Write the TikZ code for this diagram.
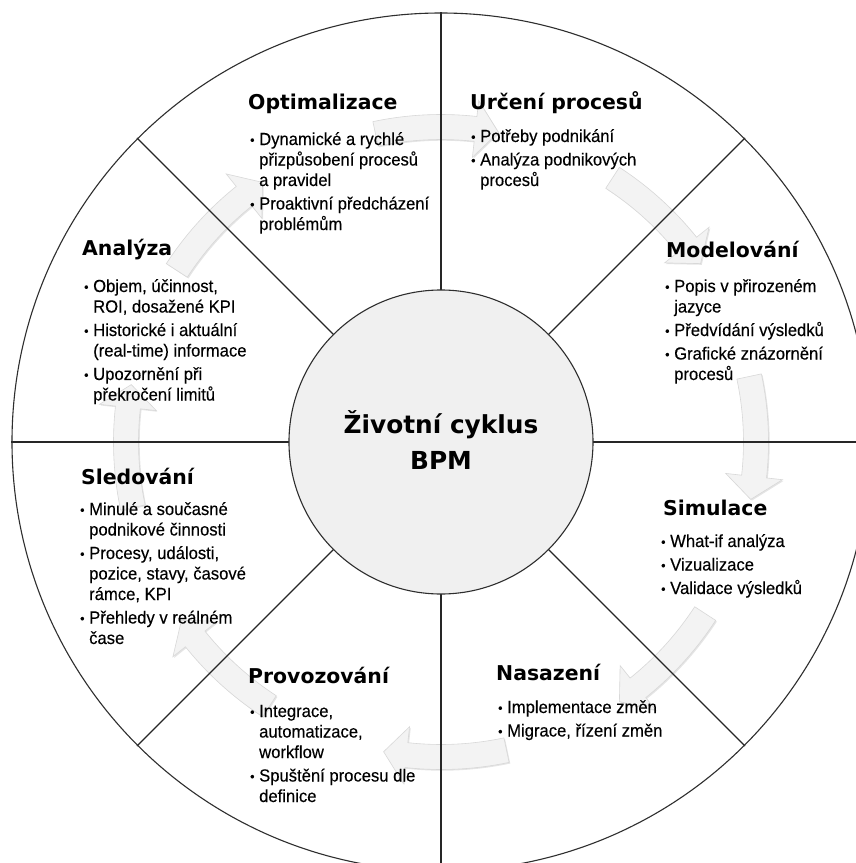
\documentclass[tikz,border=0pt]{standalone}
\usepackage{fontspec}
\setmainfont{Liberation Sans}
\newfontfamily\headfont{DejaVu Sans}
\newfontfamily\bodyfont{Liberation Sans}[FakeStretch=0.95, FakeBold=0.25]
\usetikzlibrary{shadows}

\definecolor{corefill}{HTML}{F0F0F0}
\definecolor{arrowfill}{HTML}{F3F3F3}
\definecolor{arrowedge}{HTML}{D8D8D8}
\definecolor{rimline}{HTML}{2E2E2E}

% bullet cell and list body
\newcommand\bi{\makebox[9pt][l]{\raisebox{0.5pt}{\fontsize{13}{13}\selectfont •}}}
\newcommand\blist[1]{\begin{tabular}[t]{@{}l@{}l@{}}#1\end{tabular}}

% curved block arrow on the ring: #1 tail angle, #2 tip angle (clockwise)
\newcommand\ringarrow[2]{%
  \pgfmathsetmacro\hb{#2+4.2}%
  \path[ringarrowstyle]
    (#1:327.5) arc[start angle=#1, end angle=\hb, radius=327.5]
    -- (\hb:343.5) -- (#2:315) -- (\hb:286.5) -- (\hb:302.5)
    arc[start angle=\hb, end angle=#1, radius=302.5] -- cycle;}

\tikzset{
  ringarrowstyle/.style={fill=arrowfill, draw=arrowedge, line width=0.6pt,
    drop shadow={shadow xshift=1.2pt, shadow yshift=-1.2pt, opacity=0.10, fill=black}},
  divider/.style={draw=black!85, line width=1.1pt},
  rim/.style={draw=rimline, line width=1.1pt},
  core/.style={circle, draw=rimline, line width=1.1pt, fill=corefill,
    minimum size=304pt, inner sep=0pt},
  corelabel/.style={font=\headfont\bfseries\fontsize{24.8}{36}\selectfont,
    align=center, inner sep=0pt},
  phasetitle/.style={anchor=base west, inner sep=0pt,
    font=\headfont\bfseries\fontsize{20.4}{24}\selectfont},
  phasebody/.style={anchor=base west, inner sep=0pt,
    font=\bodyfont\fontsize{17.5}{20.5}\selectfont},
}

\begin{document}
\begin{tikzpicture}[x=1pt, y=1pt]
\useasboundingbox (-441,-421) rectangle (415,442);
\clip (-441,-421) rectangle (415,442);
\fill[white] (-441,-421) rectangle (415,442);

% ring of arrows (clockwise cycle)
\foreach \t in {90,45,0,-45,-90,-135,-180,-225}{
  \pgfmathsetmacro\ta{\t+12}
  \pgfmathsetmacro\tb{\t-10.5}
  \ringarrow{\ta}{\tb}
}

% sector dividers and rims
\foreach \a in {0,45,...,315}
  \draw[divider] (\a:150) -- (\a:430);
\draw[rim] (0,0) circle[radius=429];
\node[core] (core) at (0,0) {};
\node[corelabel, yshift=2pt] (coretext) at (core.center) {Životní cyklus\\BPM};

% phase titles
\node[phasetitle] (t1) at (-193,332) {Optimalizace};
\node[phasetitle] (t2) at (29,332) {Určení procesů};
\node[phasetitle] (t3) at (225,185) {Modelování};
\node[phasetitle] (t4) at (222,-73) {Simulace};
\node[phasetitle] (t5) at (55,-238) {Nasazení};
\node[phasetitle] (t6) at (-193,-241) {Provozování};
\node[phasetitle] (t7) at (-360,-42) {Sledování};
\node[phasetitle] (t8) at (-359,187) {Analýza};

% phase contents
\node[phasebody] (b1) at (-191,297) {\blist{%
  \bi & Dynamické a rychlé\\ & přizpůsobení procesů\\ & a pravidel\\[3pt]
  \bi & Proaktivní předcházení\\ & problémům}};
\node[phasebody] (b2) at (30,300) {\blist{%
  \bi & Potřeby podnikání\\[3pt]
  \bi & Analýza podnikových\\ & procesů}};
\node[phasebody] (b3) at (224,150) {\blist{%
  \bi & Popis v přirozeném\\ & jazyce\\[3pt]
  \bi & Předvídání výsledků\\[3pt]
  \bi & Grafické znázornění\\ & procesů}};
\node[phasebody] (b4) at (220,-105) {\blist{%
  \bi & What-if analýza\\[3pt]
  \bi & Vizualizace\\[3pt]
  \bi & Validace výsledků}};
\node[phasebody] (b5) at (57,-271) {\blist{%
  \bi & Implementace změn\\[3pt]
  \bi & Migrace, řízení změn}};
\node[phasebody] (b6) at (-191,-275) {\blist{%
  \bi & Integrace,\\ & automatizace,\\ & workflow\\[3pt]
  \bi & Spuštění procesu dle\\ & definice}};
\node[phasebody] (b7) at (-361,-73) {\blist{%
  \bi & Minulé a současné\\ & podnikové činnosti\\[3pt]
  \bi & Procesy, události,\\ & pozice, stavy, časové\\ & rámce, KPI\\[3pt]
  \bi & Přehledy v reálném\\ & čase}};
\node[phasebody] (b8) at (-357,150) {\blist{%
  \bi & Objem, účinnost,\\ & ROI, dosažené KPI\\[3pt]
  \bi & Historické i aktuální\\ & (real-time) informace\\[3pt]
  \bi & Upozornění při\\ & překročení limitů}};
\end{tikzpicture}
\end{document}
